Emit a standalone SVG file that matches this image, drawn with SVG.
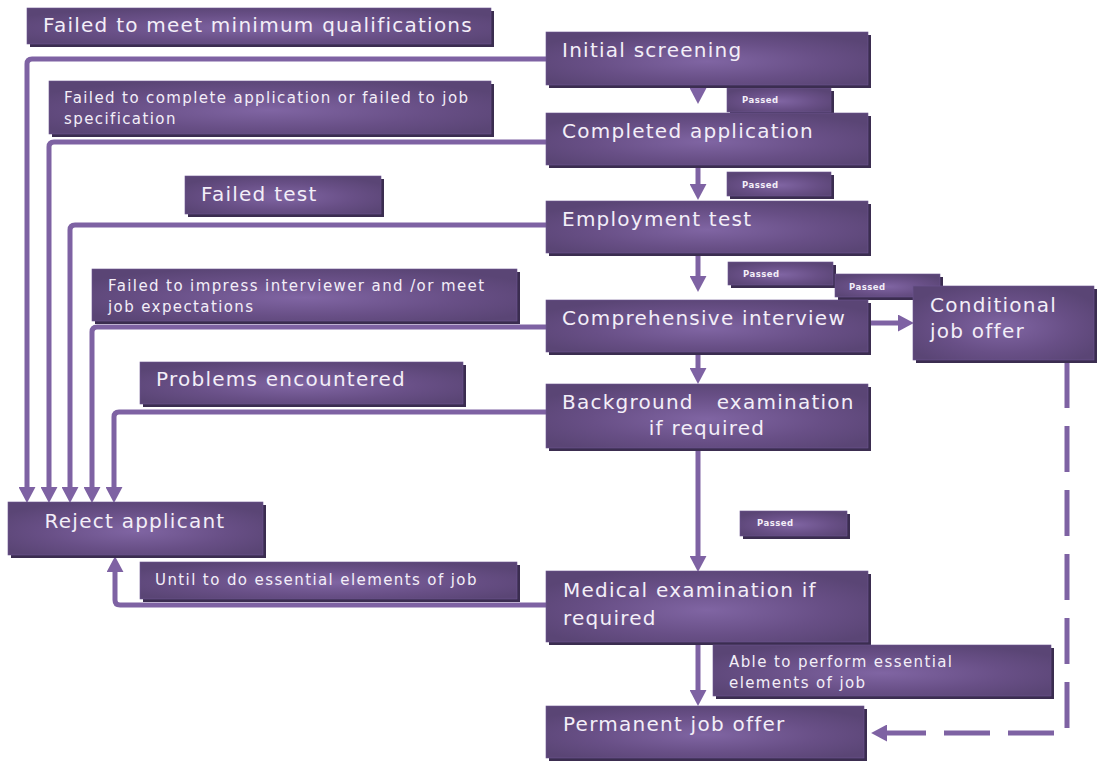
<svg xmlns="http://www.w3.org/2000/svg" width="1097" height="761" viewBox="0 0 1097 761">
<defs>
<radialGradient id="boxg" cx="0.5" cy="0.55" r="0.6">
<stop offset="0" stop-color="#8065a3"/>
<stop offset="0.6" stop-color="#684f86"/>
<stop offset="1" stop-color="#5a4575"/>
</radialGradient>
<marker id="ah" markerUnits="userSpaceOnUse" markerWidth="17" markerHeight="17" refX="1" refY="8" orient="auto" viewBox="0 0 16 16">
<path d="M0,0 L15,8 L0,16 z" fill="#7e62a3"/>
</marker>
</defs>
<style>
.sh{fill:#3b2d50}
.bx{fill:url(#boxg);stroke:#6c5590;stroke-width:0.6}
.t{font-family:"DejaVu Sans","Liberation Sans",sans-serif;fill:#f3eef8}
.big{font-size:20px;letter-spacing:1.25px}
.sm{font-size:15px;letter-spacing:1.4px}
.ps{font-size:8.5px;letter-spacing:0.5px;font-weight:bold}
.cn{fill:none;stroke:#7e62a3;stroke-width:5}
.dash{stroke-dasharray:46 18}
</style>
<rect width="1097" height="761" fill="#ffffff"/>
<g id="connectors">
<path class="cn" d="M546,59 H32 Q27,59 27,64 V488" marker-end="url(#ah)"/>
<path class="cn" d="M546,142 H54 Q49,142 49,147 V488" marker-end="url(#ah)"/>
<path class="cn" d="M546,225 H75 Q70,225 70,230 V488" marker-end="url(#ah)"/>
<path class="cn" d="M546,327 H97 Q92,327 92,332 V488" marker-end="url(#ah)"/>
<path class="cn" d="M546,412 H119 Q114,412 114,417 V488" marker-end="url(#ah)"/>
<path class="cn" d="M546,605 H120 Q115,605 115,600 V571" marker-end="url(#ah)"/>
<path class="cn" d="M698,82 V89" marker-end="url(#ah)"/>
<path class="cn" d="M698,166 V185" marker-end="url(#ah)"/>
<path class="cn" d="M698,254 V277" marker-end="url(#ah)"/>
<path class="cn" d="M698,352 V369" marker-end="url(#ah)"/>
<path class="cn" d="M698,449 V557" marker-end="url(#ah)"/>
<path class="cn" d="M698,643 V691" marker-end="url(#ah)"/>
<path class="cn" d="M870,323 H899" marker-end="url(#ah)"/>
<path class="cn dash" d="M1067,362 V733 H886" marker-end="url(#ah)"/>
</g>
<g id="fail1">
<rect class="sh" x="30" y="11" width="464" height="36"/>
<rect class="bx" x="27" y="8" width="464" height="36"/>
<text class="t big" x="43" y="32">Failed to meet minimum qualifications</text>
</g>
<g id="fail2">
<rect class="sh" x="52" y="84" width="442" height="53"/>
<rect class="bx" x="49" y="81" width="442" height="53"/>
<text class="t sm" x="64" y="103">Failed to complete application or failed to job</text>
<text class="t sm" x="64" y="124">specification</text>
</g>
<g id="failtest">
<rect class="sh" x="188" y="179" width="196" height="38"/>
<rect class="bx" x="185" y="176" width="196" height="38"/>
<text class="t big" x="201" y="201">Failed test</text>
</g>
<g id="fail3">
<rect class="sh" x="95" y="272" width="425" height="52"/>
<rect class="bx" x="92" y="269" width="425" height="52"/>
<text class="t sm" x="108" y="291">Failed to impress interviewer and /or meet</text>
<text class="t sm" x="108" y="312">job expectations</text>
</g>
<g id="problems">
<rect class="sh" x="143" y="365" width="323" height="42"/>
<rect class="bx" x="140" y="362" width="323" height="42"/>
<text class="t big" x="156" y="386">Problems encountered</text>
</g>
<g id="until">
<rect class="sh" x="143" y="565" width="377" height="37"/>
<rect class="bx" x="140" y="562" width="377" height="37"/>
<text class="t sm" x="155" y="585">Until to do essential elements of job</text>
</g>
<g id="passed1">
<rect class="sh" x="730" y="91" width="104" height="24"/>
<rect class="bx" x="727" y="88" width="104" height="24"/>
<text class="t ps" x="742" y="103">Passed</text>
</g>
<g id="initial">
<rect class="sh" x="549" y="35" width="322" height="53"/>
<rect class="bx" x="546" y="32" width="322" height="53"/>
<text class="t big" x="562" y="57">Initial screening</text>
</g>
<g id="completed">
<rect class="sh" x="549" y="116" width="322" height="52"/>
<rect class="bx" x="546" y="113" width="322" height="52"/>
<text class="t big" x="562" y="138">Completed application</text>
</g>
<g id="passed2">
<rect class="sh" x="730" y="175" width="104" height="24"/>
<rect class="bx" x="727" y="172" width="104" height="24"/>
<text class="t ps" x="742" y="188">Passed</text>
</g>
<g id="employment">
<rect class="sh" x="549" y="204" width="322" height="52"/>
<rect class="bx" x="546" y="201" width="322" height="52"/>
<text class="t big" x="562" y="226">Employment test</text>
</g>
<g id="passed3">
<rect class="sh" x="731" y="265" width="105" height="23"/>
<rect class="bx" x="728" y="262" width="105" height="23"/>
<text class="t ps" x="743" y="277">Passed</text>
</g>
<g id="passed4">
<rect class="sh" x="838" y="277" width="105" height="23"/>
<rect class="bx" x="835" y="274" width="105" height="23"/>
<text class="t ps" x="849" y="290">Passed</text>
</g>
<g id="interview">
<rect class="sh" x="549" y="303" width="322" height="52"/>
<rect class="bx" x="546" y="300" width="322" height="52"/>
<text class="t big" x="562" y="325">Comprehensive interview</text>
</g>
<g id="conditional">
<rect class="sh" x="916" y="289" width="181" height="74"/>
<rect class="bx" x="913" y="286" width="181" height="74"/>
<text class="t big" x="930" y="312">Conditional</text>
<text class="t big" x="930" y="338">job offer</text>
</g>
<g id="background">
<rect class="sh" x="549" y="387" width="322" height="64"/>
<rect class="bx" x="546" y="384" width="322" height="64"/>
<text class="t big" x="562" y="409" xml:space="preserve">Background   examination</text>
<text class="t big" x="707" y="435" text-anchor="middle">if required</text>
</g>
<g id="reject">
<rect class="sh" x="11" y="505" width="255" height="53"/>
<rect class="bx" x="8" y="502" width="255" height="53"/>
<text class="t big" x="135" y="528" text-anchor="middle">Reject applicant</text>
</g>
<g id="passed5">
<rect class="sh" x="743" y="514" width="107" height="25"/>
<rect class="bx" x="740" y="511" width="107" height="25"/>
<text class="t ps" x="757" y="526">Passed</text>
</g>
<g id="medical">
<rect class="sh" x="549" y="574" width="322" height="71"/>
<rect class="bx" x="546" y="571" width="322" height="71"/>
<text class="t big" x="563" y="597">Medical examination if</text>
<text class="t big" x="563" y="625">required</text>
</g>
<g id="able">
<rect class="sh" x="716" y="648" width="338" height="51"/>
<rect class="bx" x="713" y="645" width="338" height="51"/>
<text class="t sm" x="729" y="667">Able to perform essential</text>
<text class="t sm" x="729" y="688">elements of job</text>
</g>
<g id="permanent">
<rect class="sh" x="549" y="709" width="318" height="52"/>
<rect class="bx" x="546" y="706" width="318" height="52"/>
<text class="t big" x="563" y="731">Permanent job offer</text>
</g>
</svg>
